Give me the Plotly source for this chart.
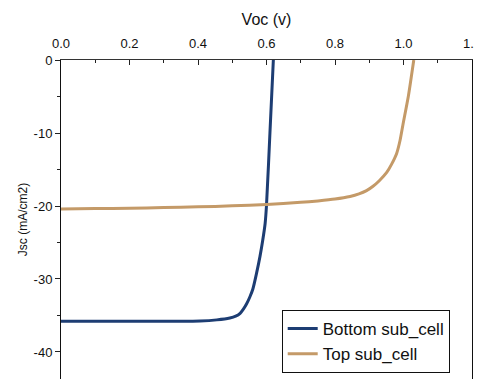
import plotly.graph_objects as go

# Bottom sub_cell J-V data
bottom_v = [0.0, 0.1, 0.2, 0.3, 0.406, 0.455, 0.493, 0.51, 0.523, 0.533, 0.542, 0.551, 0.560, 0.571, 0.581, 0.589, 0.596, 0.600, 0.610, 0.620]
bottom_j = [-35.8, -35.8, -35.8, -35.8, -35.75, -35.6, -35.35, -35.1, -34.7, -34.1, -33.4, -32.5, -31.4, -29.2, -26.9, -24.7, -22.4, -19.9, -10.0, 0.0]

# Top sub_cell J-V data
top_v = [0.0, 0.1, 0.2, 0.3, 0.4, 0.5, 0.6, 0.7, 0.75, 0.8, 0.844, 0.87, 0.892, 0.911, 0.93, 0.951, 0.965, 0.98, 0.99, 0.999, 1.014, 1.03]
top_j = [-20.4, -20.36, -20.3, -20.22, -20.12, -19.98, -19.8, -19.5, -19.3, -19.05, -18.7, -18.35, -17.9, -17.3, -16.5, -15.4, -14.3, -12.8, -11.0, -8.7, -5.0, 0.0]

x_ticks = [0.0, 0.2, 0.4, 0.6, 0.8, 1.0, 1.2]
x_ticktext = ["0.0", "0.2", "0.4", "0.6", "0.8", "1.0", "1.2"]
y_ticks = [0, -10, -20, -30, -40]
y_ticktext = ["0", "-10", "-20", "-30", "-40"]

navy = "#1d3d73"
tan = "#c49a68"

fig = go.Figure()
fig.add_trace(go.Scatter(x=bottom_v, y=bottom_j, mode="lines", name="Bottom sub_cell",
                         line=dict(color=navy, width=3, shape="spline", smoothing=0.8)))
fig.add_trace(go.Scatter(x=top_v, y=top_j, mode="lines", name="Top sub_cell",
                         line=dict(color=tan, width=3, shape="spline", smoothing=0.6)))

font = "Liberation Sans, Arial, sans-serif"

# page body has an 8px default margin on every side; the figure is sized so the
# page never overflows the 482x387 window (no scrollbar).
fig.update_layout(
    width=466, height=371,
    margin=dict(l=53, r=2, t=52, b=0, autoexpand=False),
    paper_bgcolor="white", plot_bgcolor="white",
    font=dict(family=font, color="#111", size=13),
    showlegend=True,
    legend=dict(x=0.537, y=0.2163, xanchor="left", yanchor="top",
                bgcolor="white", bordercolor="#111", borderwidth=1,
                font=dict(size=17, family=font, color="#111"),
                tracegroupgap=0, itemwidth=30),
    xaxis=dict(
        side="top", range=[0, 1.2], automargin=False,
        tickvals=x_ticks, ticktext=x_ticktext,
        ticks="inside", ticklen=5, tickwidth=1, tickcolor="#222",
        ticklabelstandoff=6, ticklabeloverflow="allow",
        minor=dict(dtick=0.1, tick0=0, ticks="inside", ticklen=3, tickcolor="#222"),
        showline=True, linecolor="#333", linewidth=1, mirror=False,
        showgrid=False, zeroline=False,
        title=dict(text="Voc (v)", font=dict(size=16, family=font, color="#111"), standoff=6),
        tickfont=dict(size=13, family=font, color="#111"),
    ),
    yaxis=dict(
        range=[-43.7, 0], automargin=False,
        tickvals=y_ticks, ticktext=y_ticktext,
        ticks="outside", ticklen=5, tickwidth=1, tickcolor="#222",
        minor=dict(dtick=5, tick0=0, ticks="outside", ticklen=3, tickcolor="#222"),
        showline=True, linecolor="#111", linewidth=1, mirror=True,
        showgrid=False, zeroline=False,
        title=dict(text="Jsc (mA/cm2)", font=dict(size=12, family=font, color="#111"), standoff=3),
        tickfont=dict(size=13, family=font, color="#111"),
    ),
)

fig.write_html("out.html")
